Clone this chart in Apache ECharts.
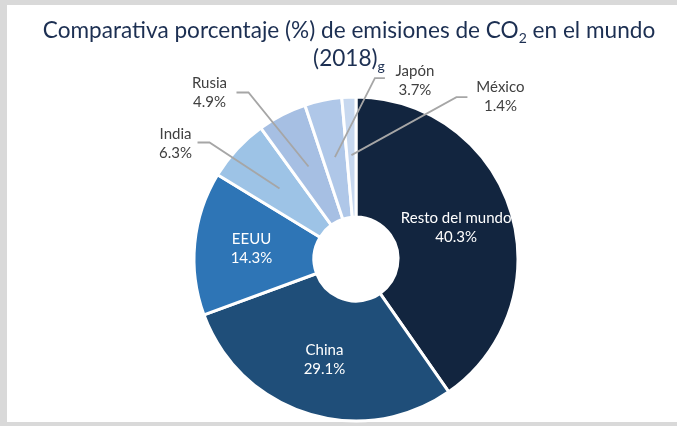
<!DOCTYPE html>
<html>
<head>
<meta charset="utf-8">
<script src="https://cdn.jsdelivr.net/npm/echarts@6/dist/echarts.min.js"></script>
<style>html,body{margin:0;padding:0;background:#fff}#c{width:677px;height:426px}</style>
</head>
<body>
<div id="c"></div>
<script>
// ---- data ----
const categories = ['Resto del mundo', 'China', 'EEUU', 'India', 'Rusia', 'Japón', 'México'];
const shares = [40.3, 29.1, 14.3, 6.3, 4.9, 3.7, 1.4];
const insideLabelled = ['Resto del mundo', 'China', 'EEUU'];
const outsideLabelled = ['India', 'Rusia', 'Japón', 'México'];

// ---- styling ----
const colors = ['#12253f', '#1f4e79', '#2e75b6', '#9dc3e6', '#a6bfe3', '#afc7e8', '#c7d8ef'];
// callout geometry relative to the leader line start (from library layout)
const callouts = {
  'India':  {bend: [-70, -46], end: [-82, -46], label: [-104, -45]},
  'Rusia':  {bend: [-60, -74], end: [-72, -74], label: [-99, -74]},
  'Japón':  {bend: [40, -79],  end: [50, -79],  label: [80, -77]},
  'México': {bend: [105, -58], end: [116, -58], label: [149, -58]}
};

const FONT = 'Lato';
const mainData = categories.map((c, i) => ({
  name: c, value: shares[i],
  itemStyle: {color: colors[i]},
  label: {show: insideLabelled.includes(c)}
}));
const calloutData = categories.map((c, i) => ({
  name: c, value: shares[i],
  label: {show: outsideLabelled.includes(c)},
  labelLine: {show: outsideLabelled.includes(c)}
}));

const chart = echarts.init(document.getElementById('c'), null, {renderer: 'canvas'});
chart.setOption({
  backgroundColor: '#d9d9d9',
  animation: false,
  graphic: [{
    type: 'rect', z: -10, silent: true,
    shape: {x: 7, y: 5, width: 670, height: 417},
    style: {fill: '#ffffff'}
  }],
  title: {
    left: 344, top: 12, textAlign: 'center',
    text: 'Comparativa porcentaje (%) de emisiones de CO{s|2} en el mundo\n(2018){s|g}',
    textStyle: {
      fontFamily: FONT, fontSize: 22.6, fontWeight: 'normal', color: '#1c2f52', lineHeight: 28,
      rich: {s: {fontFamily: FONT, fontSize: 14, color: '#1c2f52', lineHeight: 16, verticalAlign: 'bottom'}}
    }
  },
  series: [{
    type: 'pie',
    center: [356, 259],
    radius: [42, 162],
    startAngle: 90,
    clockwise: true,
    silent: true,
    data: mainData,
    itemStyle: {borderColor: '#ffffff', borderWidth: 3},
    label: {
      position: 'inside', formatter: '{b}\n{c}%', color: '#ffffff',
      fontFamily: FONT, fontSize: 15, lineHeight: 19
    },
    labelLine: {show: false}
  }, {
    type: 'pie',
    center: [356, 259],
    radius: [0, 104],
    startAngle: 90,
    clockwise: true,
    silent: true,
    z: 3,
    data: calloutData,
    itemStyle: {color: 'rgba(0,0,0,0)'},
    label: {
      position: 'outside', formatter: '{b}\n{c}%', color: '#404040',
      fontFamily: FONT, fontSize: 15, lineHeight: 19
    },
    labelLine: {lineStyle: {color: '#a6a6a6', width: 1.8}, length: 20, length2: 10},
    labelLayout: function (p) {
      const name = categories[p.dataIndex];
      const o = callouts[name];
      if (!o || !p.labelLinePoints) return {};
      const s = p.labelLinePoints[0];
      return {
        x: s[0] + o.label[0], y: s[1] + o.label[1],
        align: 'center', verticalAlign: 'middle',
        labelLinePoints: [
          [s[0], s[1]],
          [s[0] + o.bend[0], s[1] + o.bend[1]],
          [s[0] + o.end[0], s[1] + o.end[1]]
        ]
      };
    }
  }]
});
</script>
</body>
</html>
